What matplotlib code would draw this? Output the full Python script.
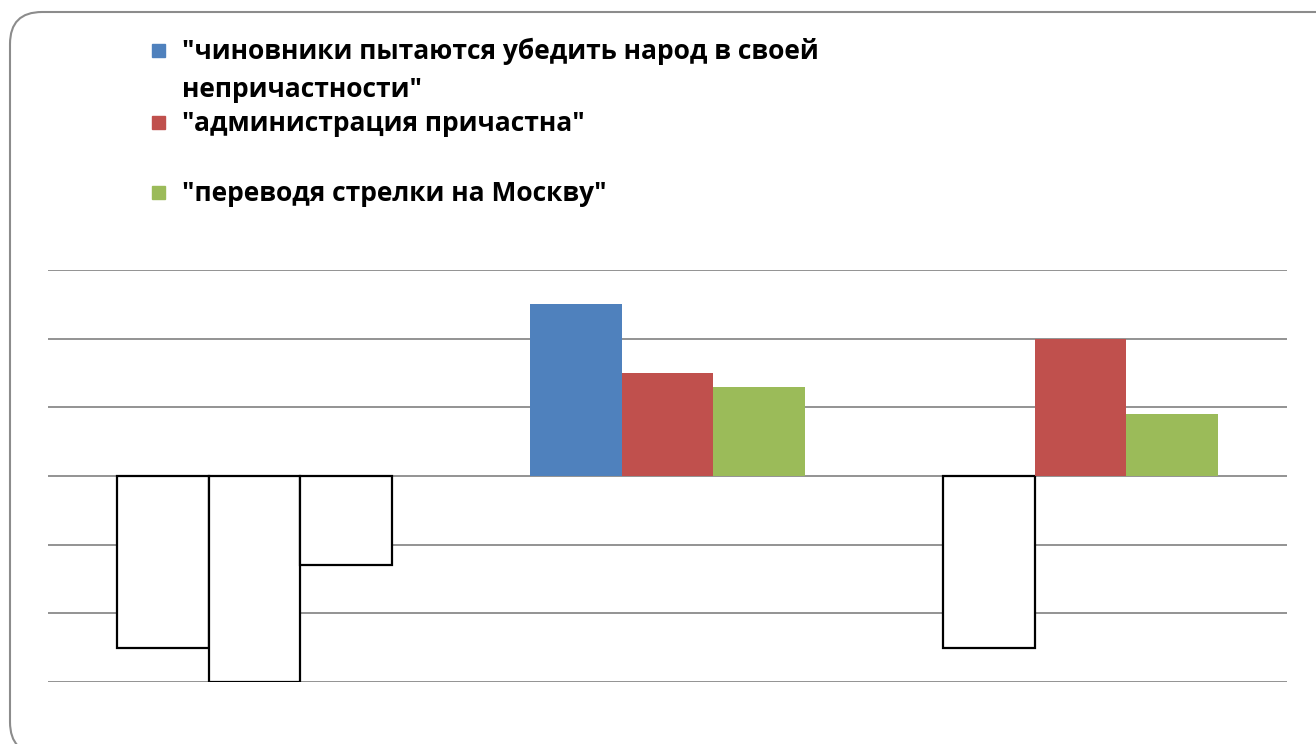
import matplotlib
matplotlib.use('Agg')
import matplotlib.pyplot as plt
from matplotlib.patches import FancyBboxPatch, Rectangle
import numpy as np

categories = ['1', '2', '3']
series_names = ['"чиновники пытаются убедить народ в своей\nнепричастности"',
                '"администрация причастна"',
                '"переводя стрелки на Москву"']
blue_vals = [-2.5, 2.5, -2.5]
red_vals = [-3.0, 1.5, 2.0]
green_vals = [-1.3, 1.3, 0.9]
colors = ['#4F81BD', '#C0504D', '#9BBB59']

W, H = 1316, 744
fig = plt.figure(figsize=(W / 100, H / 100), dpi=100)

# outer rounded frame (runs off the right and bottom edges like the original)
frame = FancyBboxPatch((0.10, -0.10), 13.45, 7.42,
                       boxstyle='round,pad=0,rounding_size=0.32',
                       transform=fig.dpi_scale_trans, fill=False,
                       edgecolor='#8c8c8c', linewidth=1.5)
fig.patches.append(frame)

ax = fig.add_axes([48 / W, (H - 682) / H, (1287 - 48) / W, 412 / H])
ax.set_xlim(-0.5, 2.5)
ax.set_ylim(-3, 3)
for s in ax.spines.values():
    s.set_visible(False)
ax.set_xticks([])
ax.set_yticks([])
for yv in range(-3, 4):
    ax.axhline(yv, color='#8a8a8a', linewidth=1.3, zorder=1)

x = np.arange(len(categories))
bw = 0.222
for i, vals in enumerate([blue_vals, red_vals, green_vals]):
    for xi, v in zip(x, vals):
        pos = xi + (i - 1) * bw
        if v < 0:
            ax.bar(pos, v, bw, color='white', edgecolor='black', linewidth=1.6, zorder=3)
        else:
            ax.bar(pos, v, bw, color=colors[i], edgecolor='none', zorder=3)

# legend drawn by hand to keep the Excel-style spacing
leg_y = [50, 122, 192]
for name, c, yy in zip(series_names, colors, leg_y):
    fig.patches.append(Rectangle((152 / W, 1 - (yy + 7) / H), 13 / W, 13 / H,
                                 transform=fig.transFigure, color=c))
    fig.text(182 / W, 1 - (yy - 12) / H, name, fontsize=19, fontweight='bold',
             family='Open Sans', va='top', ha='left', linespacing=1.5,
             color='black')

fig.savefig('out.png', dpi=100)
